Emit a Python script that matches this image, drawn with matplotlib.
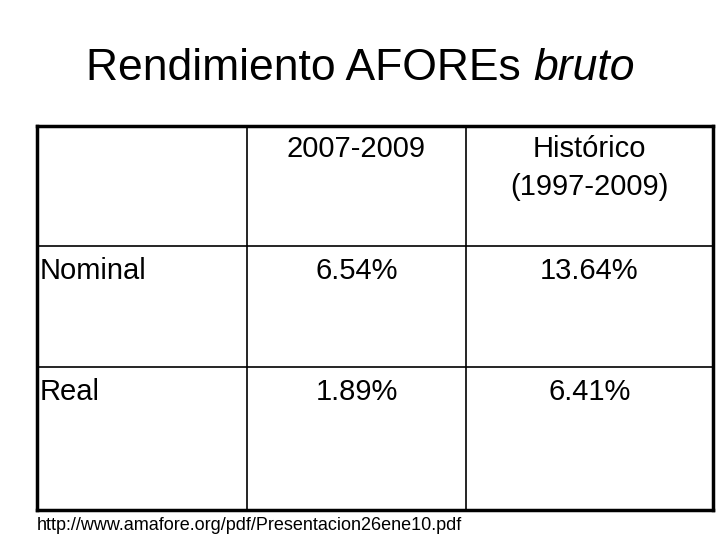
import matplotlib
matplotlib.use("Agg")
import matplotlib.pyplot as plt

title_plain = "Rendimiento AFOREs "
title_italic = "bruto"
col_headers = ["", "2007-2009", "Histórico\n(1997-2009)"]
row_labels = ["Nominal", "Real"]
values = [["6.54%", "13.64%"], ["1.89%", "6.41%"]]
source = "http://www.amafore.org/pdf/Presentacion26ene10.pdf"

plt.rcParams['font.family'] = ['Liberation Sans', 'DejaVu Sans']
fig = plt.figure(figsize=(7.2, 5.4), dpi=100)
ax = fig.add_axes([0, 0, 1, 1])
ax.set_xlim(0, 720); ax.set_ylim(540, 0); ax.axis('off')

tfs = 32
t1 = ax.text(360, 68, title_plain + title_italic, fontsize=tfs, ha='center', va='center', alpha=0)
fig.canvas.draw()
bb = t1.get_window_extent()
inv = ax.transData.inverted()
x0 = inv.transform((bb.x0, 0))[0]
ta = ax.text(x0, 68, title_plain, fontsize=tfs, ha='left', va='center')
fig.canvas.draw()
bb2 = ta.get_window_extent()
x1 = inv.transform((bb2.x1, 0))[0]
ax.text(x1, 68, title_italic, fontsize=tfs, ha='left', va='center', style='italic')

L, R, T, B = 37, 713, 126, 510
xs = [L, 247, 466, R]
ys = [T, 246, 367, B]
for x in xs:
    lw = 2.5 if x in (xs[0], xs[-1]) else 1.2
    ax.plot([x, x], [T, B], color='black', lw=lw)
for y in ys:
    lw = 2.5 if y in (ys[0], ys[-1]) else 1.2
    ax.plot([L, R], [y, y], color='black', lw=lw)

fs = 21
for j, h in enumerate(col_headers):
    if h:
        ax.text((xs[j] + xs[j+1]) / 2, T + 9, h, fontsize=fs, ha='center', va='top', linespacing=1.45)
for i, lab in enumerate(row_labels):
    yt = ys[i+1] + 11
    ax.text(L + 3, yt, lab, fontsize=fs, ha='left', va='top')
    for j, v in enumerate(values[i]):
        ax.text((xs[j+1] + xs[j+2]) / 2, yt, v, fontsize=fs, ha='center', va='top')

ax.text(L, 526, source, fontsize=13, ha='left', va='center')
fig.savefig("out.png", dpi=100)
